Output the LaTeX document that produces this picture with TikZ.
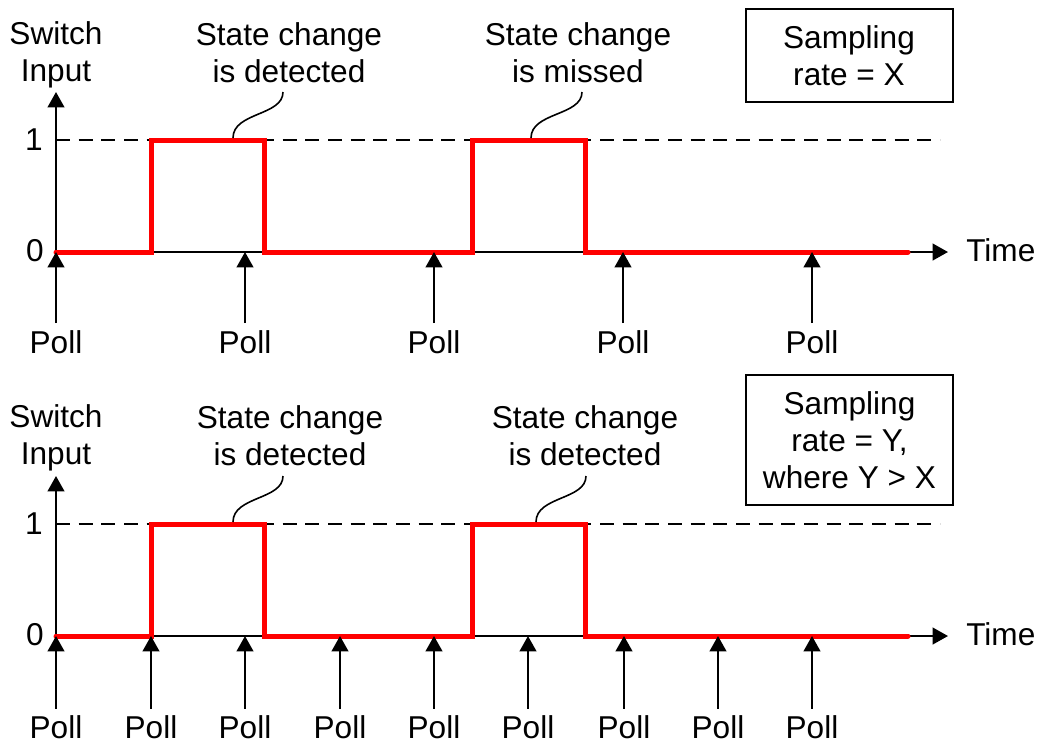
\documentclass[tikz,border=0pt]{standalone}
\usepackage{fontspec}
\setmainfont{Liberation Sans}
\usetikzlibrary{arrows.meta}

% one drawing unit = one pixel of a 1040 x 744 canvas, y pointing down
\tikzset{
  lbl/.style={inner sep=0pt, font=\fontsize{23.7}{27.75}\selectfont, align=center},
  tip/.style={-{Triangle[length=11.5pt,width=12.5pt]}},
  axisline/.style={line width=1.5pt, tip},
  pollarrow/.style={line width=1.5pt, tip},
  level/.style={line width=1.25pt, dash pattern=on 10.5pt off 6.5pt},
  signal/.style={red, line width=3.75pt, line cap=round, line join=miter},
  note/.style={line width=1.2pt},
  ratebox/.style={lbl, draw, line width=1.5pt, minimum width=155.25pt},
}

\begin{document}
\begin{tikzpicture}[x=0.75pt, y=-0.75pt]
\useasboundingbox (0,0) rectangle (1040,744);

% ---------------- upper trace: slow polling ----------------
\begin{scope}
  \coordinate (oA) at (56,252);
  \coordinate (ytA) at (56,92);
  \coordinate (xtA) at (948,252);
  \coordinate (hA) at (56,140);
  \coordinate (heA) at (940,140);

  \node[lbl] (swA) at (56,55) {Switch\\Input};
  \node[lbl] (oneA) at (34,140) {1};
  \node[lbl] (zeroA) at (35,251) {0};
  \node[lbl, anchor=base west] (timeA) at (966,261) {Time};

  \draw[level] (hA) -- (heA);
  \draw[axisline] (oA) -- (ytA);
  \draw[axisline] (oA) -- (xtA);

  \draw[signal] (oA) -- (151,252) -- (151,140) -- (264,140) -- (264,252)
                -- (472,252) -- (472,140) -- (585,140) -- (585,252) -- (908,252);

  \foreach \i/\x in {1/56, 2/245, 3/434, 4/623, 5/812} {
    \coordinate (pA\i) at (\x,252);
    \node[lbl, anchor=base] (pollA\i) at (\x,353) {Poll};
    \draw[pollarrow] ([yshift=5pt]pollA\i.north) -- (pA\i);
  }

  \node[lbl] (noteA1) at (289,52.5) {State change\\is detected};
  \coordinate (nA1) at (283,92);
  \coordinate (mA1) at (233,138);
  \draw[note] (nA1) .. controls +(0,24) and +(0,-26) .. (mA1);

  \node[lbl] (noteA2) at (578,52.5) {State change\\is missed};
  \coordinate (nA2) at (582,92);
  \coordinate (mA2) at (531,138);
  \draw[note] (nA2) .. controls +(0,24) and +(0,-26) .. (mA2);

  \node[ratebox, minimum height=69.75pt] (rateA) at (849,55.5) {Sampling\\rate = X};
\end{scope}

% ---------------- lower trace: fast polling ----------------
\begin{scope}[shift={(0,384)}]
  \coordinate (oB) at (56,252);
  \coordinate (ytB) at (56,92);
  \coordinate (xtB) at (948,252);
  \coordinate (hB) at (56,140);
  \coordinate (heB) at (940,140);

  \node[lbl] (swB) at (56,54) {Switch\\Input};
  \node[lbl] (oneB) at (34,140) {1};
  \node[lbl] (zeroB) at (35,251) {0};
  \node[lbl, anchor=base west] (timeB) at (966,261) {Time};

  \draw[level] (hB) -- (heB);
  \draw[axisline] (oB) -- (ytB);
  \draw[axisline] (oB) -- (xtB);

  \draw[signal] (oB) -- (151,252) -- (151,140) -- (264,140) -- (264,252)
                -- (472,252) -- (472,140) -- (585,140) -- (585,252) -- (908,252);

  \foreach \i/\x in {1/56, 2/151, 3/245, 4/340, 5/434, 6/528, 7/624, 8/718, 9/812} {
    \coordinate (pB\i) at (\x,252);
    \node[lbl, anchor=base] (pollB\i) at (\x,354.5) {Poll};
    \draw[pollarrow] ([yshift=5pt]pollB\i.north) -- (pB\i);
  }

  \node[lbl] (noteB1) at (290,51.5) {State change\\is detected};
  \coordinate (nB1) at (283,92);
  \coordinate (mB1) at (233,138);
  \draw[note] (nB1) .. controls +(0,24) and +(0,-26) .. (mB1);

  \node[lbl] (noteB2) at (585,51.5) {State change\\is detected};
  \coordinate (nB2) at (586,92);
  \coordinate (mB2) at (536,138);
  \draw[note] (nB2) .. controls +(0,24) and +(0,-26) .. (mB2);

  \node[ratebox, minimum height=97.5pt] (rateB) at (849.5,56) {Sampling\\rate = Y,\\where Y > X};
\end{scope}
\end{tikzpicture}
\end{document}
